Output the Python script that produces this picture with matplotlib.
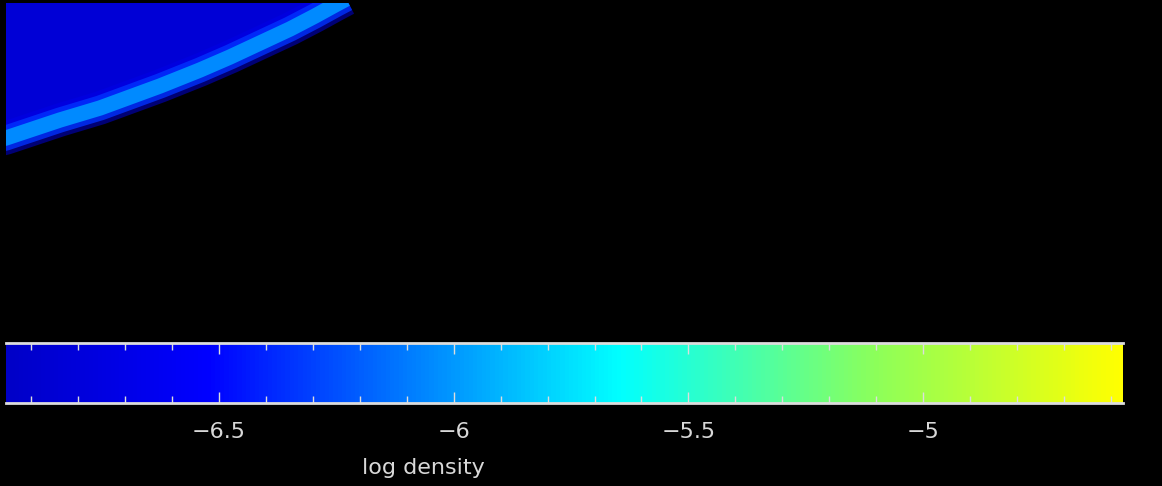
import numpy as np
import matplotlib
matplotlib.use('Agg')
import matplotlib.pyplot as plt
from matplotlib import cm
from matplotlib.colors import LinearSegmentedColormap, Normalize

# 色标范围（log density）
vmin, vmax = -6.954, -4.574
tick_values = [-6.5, -6, -5.5, -5]
tick_labels = ['\u22126.5', '\u22126', '\u22125.5', '\u22125']
minor_values = [-6.9, -6.8, -6.7, -6.6, -6.4, -6.3, -6.2, -6.1, -5.9, -5.8, -5.7,
                -5.6, -5.4, -5.3, -5.2, -5.1, -4.9, -4.8, -4.7, -4.6]

# 左上角可见的密度区域：亮带中心线（像素坐标，从图中读出）
arc_x = [-10, 6, 30, 60, 100, 130, 160, 200, 230, 260, 290, 315, 335, 350]
arc_y = [142, 138, 130, 120, 108, 97, 86, 70, 57, 43, 29, 16, 5, -3]
interior_value = -6.84
band_value = -6.05

cmap = LinearSegmentedColormap.from_list('dens', [
    (0.0, (0.0, 0.0, 0.78)),
    (0.18, (0.0, 0.0, 1.0)),
    (0.55, (0.0, 1.0, 1.0)),
    (0.78, (0.55, 1.0, 0.35)),
    (1.0, (1.0, 1.0, 0.0)),
])
norm = Normalize(vmin, vmax)

W, H = 1162, 486
fig = plt.figure(figsize=(W / 100, H / 100), dpi=100, facecolor='black')

# 图像区域
ax = fig.add_axes([6 / W, 1 - 330 / H, 1117 / W, 327 / H])
ax.set_facecolor('black')
ax.set_xlim(6, 1123)
ax.set_ylim(330, 3)
ax.axis('off')
ax.fill_between(arc_x, -20, arc_y, color=cmap(norm(interior_value)), lw=0)
ax.plot(arc_x, arc_y, color=cmap(norm(-6.7)), lw=24, alpha=0.5,
        solid_capstyle='butt', solid_joinstyle='round')
ax.plot(arc_x, arc_y, color=cmap(norm(-6.35)), lw=18, alpha=0.8,
        solid_capstyle='butt', solid_joinstyle='round')
ax.plot(arc_x, arc_y, color=cmap(norm(band_value)), lw=11,
        solid_capstyle='butt', solid_joinstyle='round')

# 色标
cax = fig.add_axes([6 / W, 1 - 403 / H, 1117 / W, 60 / H])
cb = fig.colorbar(cm.ScalarMappable(norm=norm, cmap=cmap), cax=cax, orientation='horizontal')
cb.outline.set_visible(False)
for side in ['top', 'bottom']:
    cax.spines[side].set_visible(True)
    cax.spines[side].set_color('#dddddd')
    cax.spines[side].set_linewidth(2)
cb.set_ticks(tick_values)
cb.set_ticklabels(tick_labels)
cax.set_xticks(minor_values, minor=True)
cax.tick_params(axis='x', which='both', direction='in', top=True, bottom=True,
                color='#dddddd', width=1, labelcolor='#d8d8d8', labelsize=16, pad=14)
cax.tick_params(axis='x', which='major', length=8)
cax.tick_params(axis='x', which='minor', length=5)

fig.text(423 / W, 1 - 468 / H, 'log density', color='#d8d8d8', fontsize=16,
         ha='center', va='center')

plt.savefig('out.png', dpi=100, facecolor='black')
